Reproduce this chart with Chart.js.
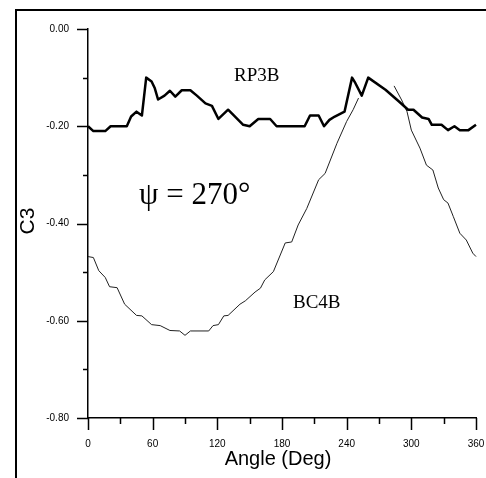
<!DOCTYPE html>
<html lang="en">
<head>
    <meta charset="UTF-8">
    <title>C3 vs Angle</title>
    <script src="https://cdn.jsdelivr.net/npm/chart.js"></script>
    <style>
        html, body { margin: 0; padding: 0; background: #fff; }
        canvas { display: block; }
    </style>
</head>
<body>
    <canvas id="myChart" width="486" height="478"></canvas>

    <script>
        // RP3B (thick line)
        const rp3bAngles = [0, 5, 16, 21, 36, 40, 45, 50, 54, 59, 62, 65, 71, 76, 81, 87, 95, 101, 109, 115,
            121, 130, 144, 150, 158, 169, 175, 201, 206, 214, 219, 224, 229, 238, 245, 248, 254, 260, 276, 288,
            297, 302, 310, 316, 319, 328, 334, 340, 345, 353, 360];
        const rp3bValues = [-0.20, -0.21, -0.21, -0.20, -0.20, -0.18, -0.17, -0.178, -0.10, -0.108,
            -0.122, -0.145, -0.137, -0.127, -0.139, -0.126, -0.126, -0.137, -0.153, -0.158,
            -0.185, -0.166, -0.197, -0.20, -0.185, -0.185, -0.20, -0.20, -0.178, -0.178,
            -0.20, -0.187, -0.18, -0.17, -0.10, -0.111, -0.137, -0.10, -0.125, -0.148,
            -0.166, -0.166, -0.182, -0.185, -0.197, -0.197, -0.208, -0.20, -0.208, -0.208, -0.197];

        // BC4B (thin line, gap near the peak)
        const bc4bAngles = [0, 5, 10, 16, 20, 27, 34, 45, 50, 59, 67, 76, 85, 90, 95, 112, 116, 121, 126, 130,
            141, 146, 155, 160, 164, 172, 183, 189, 195, 203, 214, 220, 231, 240, 246, 251, 268, 284, 291, 296,
            300, 308, 314, 320, 325, 330, 334, 339, 345, 351, 357, 360];
        const bc4bValues = [-0.468, -0.47, -0.497, -0.511, -0.53, -0.532, -0.566, -0.589, -0.59, -0.608,
            -0.61, -0.62, -0.621, -0.63, -0.621, -0.621, -0.61, -0.608, -0.59, -0.589,
            -0.566, -0.559, -0.541, -0.533, -0.516, -0.499, -0.44, -0.438, -0.403, -0.369,
            -0.31, -0.297, -0.235, -0.19, -0.166, -0.142, null, -0.117, -0.146, -0.17,
            -0.208, -0.245, -0.28, -0.29, -0.327, -0.351, -0.358, -0.386, -0.42, -0.434, -0.461, -0.468];

        const xTicks = [0, 60, 120, 180, 240, 300, 360];
        const xMinorTicks = [30, 90, 150, 210, 270, 330];
        const yTicks = [0, -0.2, -0.4, -0.6, -0.8];
        const yMinorTicks = [-0.1, -0.3, -0.5, -0.7];

        function toPoints(xs, ys) {
            return xs.map((x, i) => ({ x: x, y: ys[i] }));
        }

        const sansFont = '"Liberation Sans", Arial, sans-serif';
        const serifFont = '"Liberation Serif", "Times New Roman", serif';

        // frame, tick marks and texts
        const decorations = {
            id: 'decorations',
            beforeDraw(chart) {
                const ctx = chart.ctx;
                ctx.save();
                ctx.fillStyle = '#fff';
                ctx.fillRect(0, 0, chart.width, chart.height);
                ctx.strokeStyle = '#000';
                ctx.lineWidth = 2;
                ctx.beginPath();
                ctx.moveTo(16, chart.height);
                ctx.lineTo(16, 10);
                ctx.lineTo(chart.width, 10);
                ctx.stroke();
                ctx.restore();
            },
            afterDraw(chart) {
                const ctx = chart.ctx;
                const xs = chart.scales.x;
                const ys = chart.scales.y;
                const left = chart.chartArea.left;
                const bottom = chart.chartArea.bottom;
                ctx.save();
                ctx.strokeStyle = '#000';
                ctx.lineWidth = 1.5;
                ctx.beginPath();
                yTicks.forEach(v => {
                    const p = Math.round(ys.getPixelForValue(v)) + 0.5;
                    ctx.moveTo(left - 11, p); ctx.lineTo(left, p);
                });
                yMinorTicks.forEach(v => {
                    const p = Math.round(ys.getPixelForValue(v)) + 0.5;
                    ctx.moveTo(left - 5, p); ctx.lineTo(left, p);
                });
                xTicks.forEach(v => {
                    const p = Math.round(xs.getPixelForValue(v)) + 0.5;
                    ctx.moveTo(p, bottom); ctx.lineTo(p, bottom + 12);
                });
                xMinorTicks.forEach(v => {
                    const p = Math.round(xs.getPixelForValue(v)) + 0.5;
                    ctx.moveTo(p, bottom); ctx.lineTo(p, bottom + 6);
                });
                ctx.stroke();

                ctx.fillStyle = '#000';
                ctx.textBaseline = 'alphabetic';
                ctx.textAlign = 'center';
                ctx.font = '20px ' + sansFont;
                ctx.fillText('Angle (Deg)', 278, 465);

                ctx.save();
                ctx.translate(34, 221);
                ctx.rotate(-Math.PI / 2);
                ctx.font = '21px ' + sansFont;
                ctx.fillText('C3', 0, 0);
                ctx.restore();

                ctx.textAlign = 'left';
                ctx.font = '19px ' + serifFont;
                ctx.fillText('RP3B', 234, 81);
                ctx.fillText('BC4B', 293, 308);

                ctx.font = '31px ' + serifFont;
                ctx.fillText('\u03C8 = 270\u00B0', 139, 204);
                ctx.restore();
            }
        };

        const ctx = document.getElementById('myChart').getContext('2d');
        const myChart = new Chart(ctx, {
            type: 'line',
            data: {
                datasets: [{
                    label: 'RP3B',
                    data: toPoints(rp3bAngles, rp3bValues),
                    borderColor: '#000',
                    borderWidth: 2.5,
                    fill: false
                }, {
                    label: 'BC4B',
                    data: toPoints(bc4bAngles, bc4bValues),
                    borderColor: '#222',
                    borderWidth: 1,
                    spanGaps: false,
                    fill: false
                }]
            },
            options: {
                responsive: false,
                devicePixelRatio: 1,
                animation: false,
                clip: false,
                elements: {
                    point: { radius: 0 },
                    line: { tension: 0, borderJoinStyle: 'round' }
                },
                layout: { padding: { top: 29, right: 10, left: 0, bottom: 0 } },
                plugins: {
                    legend: { display: false },
                    tooltip: { enabled: false }
                },
                scales: {
                    x: {
                        type: 'linear',
                        min: 0,
                        max: 360,
                        afterFit: scale => {
                            scale.height = 60;
                            scale.paddingLeft = 0;
                            scale.paddingRight = 0;
                        },
                        afterBuildTicks: scale => { scale.ticks = xTicks.map(v => ({ value: v })); },
                        grid: { display: false },
                        border: { display: true, color: '#000', width: 1.5 },
                        ticks: {
                            padding: 12,
                            maxRotation: 0,
                            color: '#000',
                            font: { family: sansFont, size: 10 },
                            callback: v => String(v)
                        }
                    },
                    y: {
                        min: -0.8,
                        max: 0,
                        afterFit: scale => {
                            scale.width = 88;
                            scale.paddingTop = 0;
                            scale.paddingBottom = 0;
                        },
                        afterBuildTicks: scale => { scale.ticks = yTicks.map(v => ({ value: v })); },
                        grid: { display: false },
                        border: { display: true, color: '#000', width: 1.5 },
                        ticks: {
                            padding: 11,
                            color: '#000',
                            font: { family: sansFont, size: 10 },
                            callback: v => v.toFixed(2)
                        }
                    }
                }
            },
            plugins: [decorations]
        });
    </script>
</body>
</html>
